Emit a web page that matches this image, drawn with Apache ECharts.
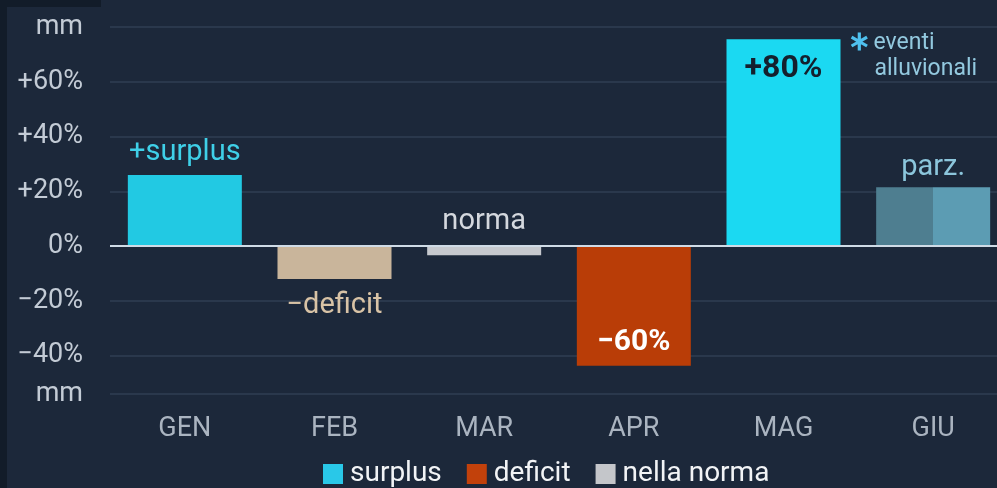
<!DOCTYPE html>
<html>
<head>
<meta charset="utf-8">
<script src="https://cdn.jsdelivr.net/npm/echarts@6/dist/echarts.min.js"></script>
<style>
  html, body { margin: 0; padding: 0; background: #1c283a; }
  #main { width: 997px; height: 488px; }
</style>
</head>
<body>
<div id="main"></div>
<script>
// months and values (percent vs normal)
var categories = ['GEN', 'FEB', 'MAR', 'APR', 'MAG', 'GIU'];
var surplus = [26, null, null, null, 75.5, 21.5];
var deficit = [null, -12, null, -43.7, null, null];
var norma = [null, null, -3.3, null, null, null];
var barLabels = ['+surplus', '\u2212deficit', 'norma', '\u221260%', '+80%', 'parz.'];
var yTicks = [-54, -40, -20, 0, 20, 40, 60, 80];
var yTickLabels = ['mm', '\u221240%', '\u221220%', '0%', '+20%', '+40%', '+60%', 'mm'];

var FONT = 'Roboto';

// per-bar look (colour + where the label goes)
var barStyle = [
  { color: '#22c9e3', pos: 'top', dist: 8, lc: '#3fd0e8', fs: 29, bold: false },
  { color: '#c9b59b', pos: 'bottom', dist: 12, lc: '#d8c3a6', fs: 29, bold: false },
  { color: '#c6c9ce', pos: 'top', dist: 10, lc: '#d4d8de', fs: 29, bold: false },
  { color: '#b93d07', pos: 'insideBottom', dist: 8, lc: '#ffffff', fs: 30, bold: true },
  { color: '#1bd9f2', pos: 'insideTop', dist: 14, lc: '#14202e', fs: 32, bold: true },
  {
    color: {
      type: 'linear', x: 0, y: 0, x2: 1, y2: 0,
      colorStops: [
        { offset: 0, color: '#4e7e90' }, { offset: 0.5, color: '#4e7e90' },
        { offset: 0.5, color: '#5c9cb3' }, { offset: 1, color: '#5c9cb3' }
      ]
    },
    pos: 'top', dist: 5, lc: '#8cc6dc', fs: 29, bold: false
  }
];

function buildData(values) {
  return values.map(function (v, i) {
    if (v === null) return null;
    var s = barStyle[i];
    return {
      value: v,
      itemStyle: { color: s.color },
      label: {
        show: true,
        formatter: barLabels[i],
        position: s.pos,
        distance: s.dist,
        color: s.lc,
        fontFamily: FONT,
        fontSize: s.fs,
        fontWeight: s.bold ? 'bold' : 'normal'
      }
    };
  });
}

var chart = echarts.init(document.getElementById('main'), null, { width: 997, height: 488 });

var option = {
  backgroundColor: '#1c283a',
  animation: false,
  textStyle: { fontFamily: FONT },
  graphic: [
    { type: 'rect', left: 0, top: 0, shape: { width: 7, height: 488 }, style: { fill: '#121c29' }, z: -1 },
    { type: 'rect', left: 0, top: 0, shape: { width: 101, height: 7 }, style: { fill: '#121c29' }, z: -1 }
  ],
  legend: {
    left: 318,
    top: 455,
    icon: 'rect',
    itemWidth: 20,
    itemHeight: 20,
    itemGap: 25,
    textStyle: { color: '#f2f4f6', fontSize: 28, fontFamily: FONT, padding: [0, 0, 0, 2] },
    data: ['surplus', 'deficit', 'nella norma']
  },
  grid: {
    left: 110,
    top: 27,
    right: -11,
    bottom: 94,
    outerBoundsMode: 'none',
    containLabel: false
  },
  xAxis: {
    type: 'category',
    data: categories,
    axisLine: { show: false },
    axisTick: { show: false },
    axisLabel: { color: '#aab4c0', fontSize: 27, margin: 22, fontFamily: FONT }
  },
  yAxis: {
    type: 'value',
    min: -54,
    max: 80,
    axisLine: { show: false },
    axisTick: { show: false, customValues: yTicks },
    axisLabel: {
      customValues: yTicks,
      color: '#c3cbd5',
      fontSize: 27,
      margin: 27,
      fontFamily: FONT,
      formatter: function (v) {
        var i = yTicks.indexOf(v);
        return i >= 0 ? yTickLabels[i] : '';
      }
    },
    splitLine: { lineStyle: { color: '#2f3e53', width: 1.5 } }
  },
  series: [
    {
      name: 'surplus',
      type: 'bar',
      stack: 'm',
      barWidth: 114,
      itemStyle: { color: '#29c8e8' },
      data: buildData(surplus),
      markPoint: {
        symbol: 'circle',
        symbolSize: 0,
        silent: true,
        data: [{
          coord: ['MAG', 75.5],
          label: {
            show: true,
            position: [64, -10],
            formatter: '{s|\u2217} {t|eventi}\n{u|alluvionali}',
            rich: {
              s: { color: '#4fc0ee', fontSize: 27, fontWeight: 'bold', fontFamily: FONT },
              t: { color: '#93c9df', fontSize: 23, fontFamily: FONT, lineHeight: 26 },
              u: { color: '#93c9df', fontSize: 23, fontFamily: FONT, lineHeight: 26, padding: [0, 0, 0, 27] }
            }
          }
        }]
      },
      markLine: {
        silent: true,
        symbol: 'none',
        label: { show: false },
        lineStyle: { color: '#cfdbe6', width: 2, type: 'solid' },
        data: [{ yAxis: 0 }]
      }
    },
    {
      name: 'deficit',
      type: 'bar',
      stack: 'm',
      barWidth: 114,
      itemStyle: { color: '#c2410b' },
      data: buildData(deficit)
    },
    {
      name: 'nella norma',
      type: 'bar',
      stack: 'm',
      barWidth: 114,
      itemStyle: { color: '#c4c6ca' },
      data: buildData(norma)
    }
  ]
};

chart.setOption(option);
</script>
</body>
</html>
